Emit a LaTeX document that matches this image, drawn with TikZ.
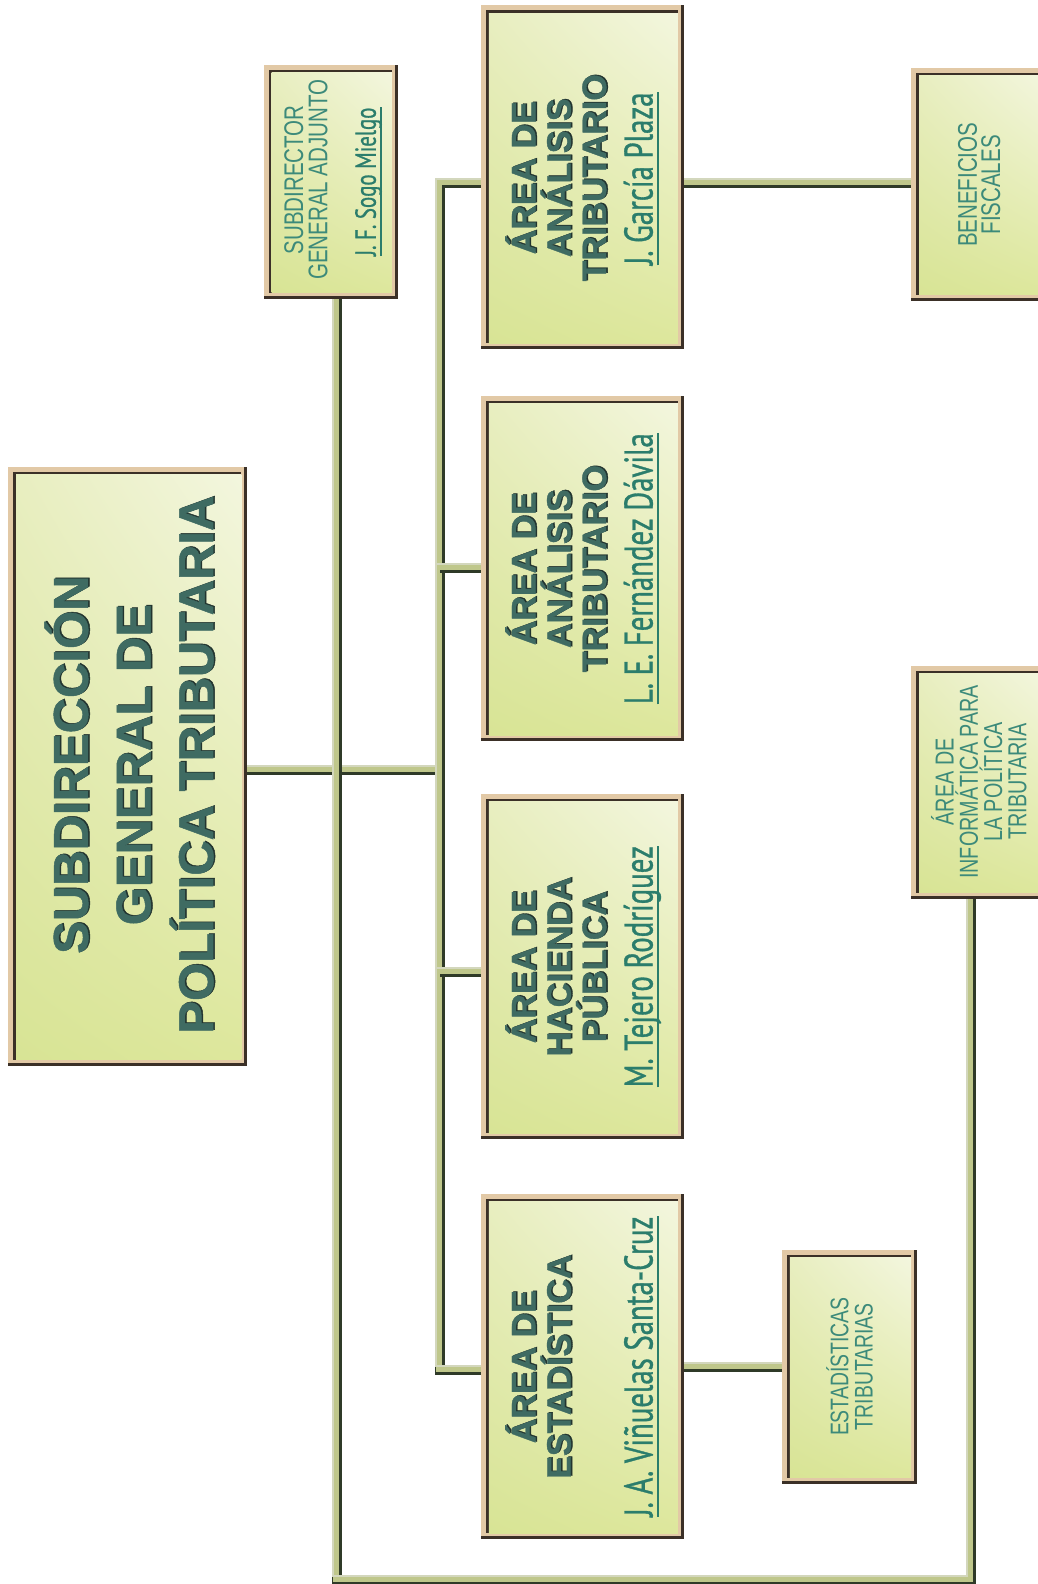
\documentclass[tikz,border=0pt]{standalone}
\usepackage{fontspec}
\usetikzlibrary{shadings}
\setmainfont{Liberation Sans}
\newfontfamily\condf[FakeStretch=0.76]{Liberation Sans}
\newfontfamily\namef[FakeStretch=0.72,FakeBold=0.8]{PT Sans}
\newfontfamily\heavyf[FakeBold=1]{Liberation Sans Bold}
\pgfdeclarelayer{background}
\pgfsetlayers{background,main}
\definecolor{cdark}{HTML}{2F3A28}
\definecolor{cmid}{HTML}{BFC78B}
\definecolor{clight}{HTML}{D3D7BD}
\definecolor{fdark}{HTML}{3B3027}
\definecolor{ftan}{HTML}{E2C9A6}
\definecolor{fUL}{HTML}{E8EEC0}
\definecolor{fUR}{HTML}{F3F6DE}
\definecolor{fLL}{HTML}{D8E495}
\definecolor{fLR}{HTML}{DDE79C}
\definecolor{boldc}{HTML}{3F6B62}
\definecolor{shadc}{HTML}{22342F}
\definecolor{namec}{HTML}{2B7D6C}
\definecolor{lightc}{HTML}{3C8A7A}
\newcommand\obox[1]{%
  \fill[fdark] (#1.north west) rectangle (#1.south east);
  \fill[ftan] (#1.north west) rectangle ([shift={(-3pt,3pt)}]#1.south east);
  \fill[fdark] ([shift={(5pt,-5pt)}]#1.north west) rectangle ([shift={(-6pt,6pt)}]#1.south east);
  \shade[upper left=fUL,upper right=fUR,lower left=fLL,lower right=fLR]
    ([shift={(8pt,-8pt)}]#1.north west) rectangle ([shift={(-6pt,6pt)}]#1.south east);}
\newcommand\connpath[2][]{%
  \draw[conA,#1] #2;
  \draw[conB,#1] #2;
  \draw[conC,#1] #2;}
\newcommand\btext[5]{%
  \node[bsh,font={\heavyf\fontsize{#4}{#4}\selectfont}] (#1s) at (#2+1.5,#3-0.8) {#5};
  \node[btx,font={\heavyf\fontsize{#4}{#4}\selectfont}] (#1) at (#2,#3) {#5};}
\newcommand\ltext[5]{%
  \node[ltx,font={\condf\fontsize{#4}{#4}\selectfont}] (#1) at (#2,#3) {#5};}
\newcommand\ntext[6]{%
  \node[ntx,text depth=#5pt,font={\namef\fontsize{#4}{#4}\selectfont}] (#1) at (#2,#3) {#6};
  \draw[namec,line width=1.8pt] (#1.south west) -- (#1.south east);}
\begin{document}
\begin{tikzpicture}[x=1.0101pt,y=-1.0101pt,
  bx/.style={inner sep=0pt,outer sep=0pt,draw=none},
  conA/.style={line width=10pt,draw=cdark},
  conB/.style={line width=6pt,draw=cmid,transform canvas={shift={(-1pt,1pt)}}},
  conC/.style={line width=2pt,draw=clight,transform canvas={shift={(-4pt,4pt)}}},
  btx/.style={rotate=90,anchor=base,inner sep=0pt,text=boldc},
  bsh/.style={rotate=90,anchor=base,inner sep=0pt,text=shadc},
  ltx/.style={rotate=90,anchor=base,inner sep=0pt,text=lightc},
  ntx/.style={rotate=90,anchor=base,inner sep=0pt,text=namec}]
\useasboundingbox (0,0) rectangle (1026.63,1568.16);
% box nodes
\node[bx,minimum width=239.4pt,minimum height=599pt] (main) at (126.5,758.5) {};
\node[bx,minimum width=134.3pt,minimum height=234.3pt] (sub) at (327.5,180) {};
\node[bx,minimum width=203pt,minimum height=344.4pt] (a1) at (576.5,175.5) {};
\node[bx,minimum width=203pt,minimum height=345.5pt] (a2) at (576.5,563) {};
\node[bx,minimum width=203pt,minimum height=345.5pt] (a3) at (576.5,957) {};
\node[bx,minimum width=203pt,minimum height=345.5pt] (a4) at (576.5,1353) {};
\node[bx,minimum width=141.4pt,minimum height=233.3pt] (ben) at (972,182.5) {};
\node[bx,minimum width=141.4pt,minimum height=233.3pt] (inf) at (972,774.5) {};
\node[bx,minimum width=135.4pt,minimum height=234.3pt] (est) at (841,1353) {};
% frames
\obox{main}\obox{sub}\obox{a1}\obox{a2}\obox{a3}\obox{a4}\obox{ben}\obox{inf}\obox{est}
% connector coordinates
\coordinate (busTop) at (436,181);
\coordinate (busBot) at (436,1356);
\coordinate (b2) at (436,562);
\coordinate (b3) at (436,962);
\coordinate (mj) at (436,762);
\coordinate (sv) at (334,1564.5);
\coordinate (rv) at (961,1564.5);
\begin{pgfonlayer}{background}
\connpath[shorten <=-6pt]{(mj -| main.east) -- (mj)}
\connpath[shorten <=-6pt,shorten >=-6pt]{(sv |- sub.south) -- (sv) -- (rv) -- (rv |- inf.south)}
\connpath[shorten <=-6pt,shorten >=-6pt]{(busTop -| a1.west) -- (busTop) -- (busBot) -- (busBot -| a4.west)}
\connpath[shorten >=-6pt]{(b2) -- (b2 -| a2.west)}
\connpath[shorten >=-6pt]{(b3) -- (b3 -| a3.west)}
\connpath[shorten <=-6pt,shorten >=-6pt]{(busTop -| a1.east) -- (busTop -| ben.west)}
\connpath[shorten <=-6pt,shorten >=-6pt]{(a4.east) -- (est.west)}
\end{pgfonlayer}
% main title
\btext{m1}{87}{757}{49}{SUBDIRECCIÓN}
\btext{m2}{149}{757}{49}{GENERAL DE}
\btext{m3}{211}{757}{49}{POLÍTICA TRIBUTARIA}
% area 1
\btext{p1}{530}{176}{34}{ÁREA DE}
\btext{p2}{565}{176}{34}{ANÁLISIS}
\btext{p3}{600}{176}{34}{TRIBUTARIO}
\ntext{pn}{646}{177}{40}{5}{J. García Plaza}
% area 2
\btext{q1}{530}{563}{34}{ÁREA DE}
\btext{q2}{565}{563}{34}{ANÁLISIS}
\btext{q3}{600}{563}{34}{TRIBUTARIO}
\ntext{qn}{646}{563}{40}{5}{L. E. Fernández Dávila}
% area 3
\btext{r1}{530}{957}{34}{ÁREA DE}
\btext{r2}{565}{957}{34}{HACIENDA}
\btext{r3}{600}{957}{34}{PÚBLICA}
\ntext{rn}{646}{957}{40}{5}{M. Tejero Rodríguez}
% area 4
\btext{s1}{530}{1353}{34}{ÁREA DE}
\btext{s2}{565}{1353}{34}{ESTADÍSTICA}
\ntext{sn}{646}{1353}{40}{5}{J. A. Viñuelas Santa-Cruz}
% subdirector adjunto
\ltext{u1}{300}{178}{27}{SUBDIRECTOR}
\ltext{u2}{324}{178}{27}{GENERAL ADJUNTO}
\ntext{un}{372}{180}{29}{5}{J. F. Sogo Mielgo}
% beneficios
\ltext{v1}{967}{183}{27}{BENEFICIOS}
\ltext{v2}{990}{183}{27}{FISCALES}
% informatica
\ltext{w1}{944}{774}{26}{ÁREA DE}
\ltext{w2}{968}{774}{26}{INFORMÁTICA PARA}
\ltext{w3}{992}{774}{26}{LA POLÍTICA}
\ltext{w4}{1016}{774}{26}{TRIBUTARIA}
% estadisticas
\ltext{x1}{840}{1353}{25.5}{ESTADÍSTICAS}
\ltext{x2}{864}{1353}{25.5}{TRIBUTARIAS}
\end{tikzpicture}
\end{document}
